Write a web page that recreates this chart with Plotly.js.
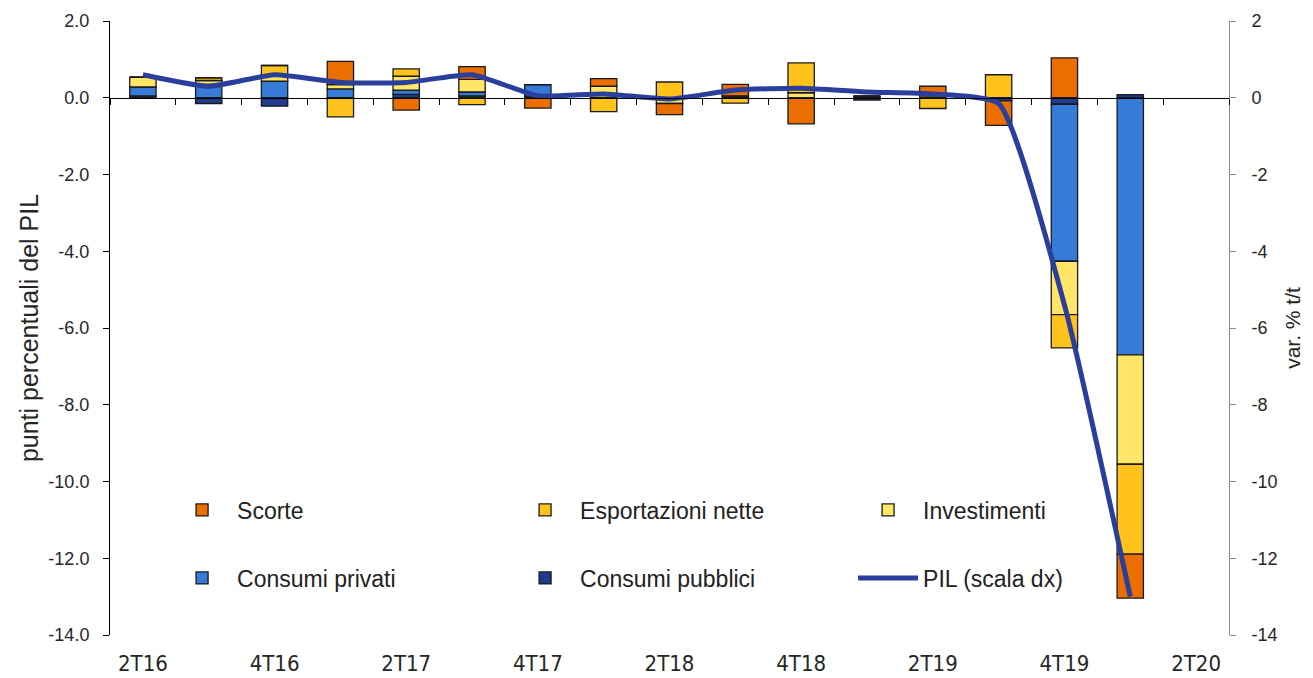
<!DOCTYPE html>
<html>
<head>
<meta charset="utf-8">
<script src="https://cdn.plot.ly/plotly-3.0.1.min.js"></script>
<style>
  html, body { margin: 0; padding: 0; background: #fff; }
  #chart { width: 1313px; height: 678px; }
</style>
</head>
<body>
<div id="chart"></div>
<script>
// Categories (quarters) shown on the axis
var axisQuarters = ['2T16','3T16','4T16','1T17','2T17','3T17','4T17','1T18','2T18','3T18','4T18','1T19','2T19','3T19','4T19','1T20','2T20'];
var tickQuarters = ['2T16','4T16','2T17','4T17','2T18','4T18','2T19','4T19','2T20'];
// Quarters with data
var quarters = ['2T16','3T16','4T16','1T17','2T17','3T17','4T17','1T18','2T18','3T18','4T18','1T19','2T19','3T19','4T19','1T20'];

// Y tick values and labels
var yTickVals = [-14, -12, -10, -8, -6, -4, -2, 0, 2];
var leftTickLabels = ['-14.0', '-12.0', '-10.0', '-8.0', '-6.0', '-4.0', '-2.0', '0.0', '2.0'];
var rightTickLabels = ['-14', '-12', '-10', '-8', '-6', '-4', '-2', '0', '2'];

// Contributions (percentage points of GDP)
var consumiPubblici = [0.05, -0.15, -0.22, 0, 0.09, 0.05, 0.04, 0, 0, 0.05, 0, -0.06, 0, -0.08, -0.17, 0.08];
var consumiPrivati  = [0.23, 0.35, 0.43, 0.23, 0.11, 0.10, 0.30, 0, 0, 0, 0, 0.04, 0, 0, -4.09, -6.70];
var investimenti    = [0.26, 0.10, 0.17, 0.11, 0.36, 0.33, 0, 0.30, -0.15, 0, 0.13, 0, 0.05, 0, -1.39, -2.85];
var esportazioni    = [0, 0.07, 0.24, -0.50, 0.19, -0.18, 0, -0.36, 0.41, -0.14, 0.78, 0, -0.28, 0.60, -0.87, -2.34];
var scorte          = [0, 0, 0, 0.61, -0.32, 0.33, -0.27, 0.20, -0.29, 0.30, -0.68, 0, 0.25, -0.64, 1.04, -1.15];
// GDP q/q % change (right axis)
var pil             = [0.6, 0.3, 0.6, 0.4, 0.4, 0.6, 0.05, 0.1, -0.03, 0.2, 0.25, 0.15, 0.1, -0.15, -5.4, -13.0];

var FONT = '"Liberation Sans", Arial, sans-serif';
var NARROW = '"Liberation Sans Narrow", "DejaVu Sans Condensed", "Roboto Condensed", "Liberation Sans", Arial, sans-serif';
var outline = {color: '#1a1a1a', width: 1.3};

function barTrace(name, vals, color, rank, legendId) {
  return {
    type: 'bar', name: name, x: quarters, y: vals,
    marker: {color: color, line: outline},
    legendrank: rank, legend: legendId,
    xaxis: 'x', yaxis: 'y', hoverinfo: 'name+y'
  };
}

var data = [
  barTrace('Consumi pubblici', consumiPubblici, '#1f3a8f', 5, 'legend2'),
  barTrace('Consumi privati', consumiPrivati, '#377bd9', 4, 'legend2'),
  barTrace('Investimenti', investimenti, '#ffe666', 3, 'legend'),
  barTrace('Esportazioni nette', esportazioni, '#ffc31c', 2, 'legend'),
  barTrace('Scorte', scorte, '#ea6e00', 1, 'legend'),
  {
    type: 'scatter', mode: 'lines', name: 'PIL (scala dx)',
    x: quarters, y: pil, xaxis: 'x2', yaxis: 'y2',
    line: {color: '#2a3f9c', width: 5, shape: 'spline', smoothing: 0.5},
    legendrank: 6, legend: 'legend2'
  }
];

var legendCommon = {
  orientation: 'h', xanchor: 'left', yanchor: 'middle',
  entrywidth: 268, entrywidthmode: 'pixels',
  itemwidth: 60, traceorder: 'normal',
  bgcolor: 'rgba(0,0,0,0)',
  font: {family: FONT, size: 23, color: '#222'}
};

var layout = {
  width: 1313, height: 678,
  margin: {l: 110, r: 84, t: 21, b: 43},
  paper_bgcolor: '#fff', plot_bgcolor: '#fff',
  barmode: 'relative', bargap: 0.6,
  showlegend: true,
  legend: Object.assign({}, legendCommon, {x: 0.051, y: 0.2036}),
  legend2: Object.assign({}, legendCommon, {x: 0.051, y: 0.0928}),
  xaxis: {
    type: 'category', categoryorder: 'array', categoryarray: axisQuarters,
    range: [-0.5, 16.5], autorange: false,
    tickmode: 'array', tickvals: tickQuarters, ticktext: tickQuarters,
    ticks: '', showline: false, showgrid: false, zeroline: false,
    ticklabelstandoff: 13,
    tickfont: {family: NARROW, size: 22, color: '#262626'}
  },
  xaxis2: {
    type: 'category', categoryorder: 'array', categoryarray: axisQuarters,
    range: [-0.5, 16.5], autorange: false,
    overlaying: 'x', anchor: 'free', position: 0.875, side: 'bottom',
    showline: true, linecolor: '#000', linewidth: 1,
    ticks: 'outside', tickson: 'boundaries', ticklen: 6, tickcolor: '#000',
    showticklabels: false, showgrid: false, zeroline: false
  },
  yaxis: {
    range: [-14, 2], autorange: false,
    tickmode: 'array', tickvals: yTickVals, ticktext: leftTickLabels,
    showline: true, linecolor: '#000', linewidth: 1,
    ticks: 'outside', ticklen: 6, tickcolor: '#000',
    showgrid: false, zeroline: false,
    ticklabelstandoff: 10,
    tickfont: {family: FONT, size: 18, color: '#262626'},
    title: {text: 'punti percentuali del PIL', standoff: 2,
            font: {family: FONT, size: 25, color: '#262626'}}
  },
  yaxis2: {
    range: [-14, 2], autorange: false,
    tickmode: 'array', tickvals: yTickVals, ticktext: rightTickLabels,
    overlaying: 'y', side: 'right', anchor: 'x',
    showline: true, linecolor: '#8c8c8c', linewidth: 1,
    ticks: 'outside', ticklen: 6, tickcolor: '#8c8c8c',
    showgrid: false, zeroline: false,
    ticklabelstandoff: 12,
    tickfont: {family: FONT, size: 18, color: '#262626'},
    title: {text: 'var. % t/t', standoff: 8,
            font: {family: FONT, size: 21, color: '#262626'}}
  }
};

Plotly.newPlot('chart', data, layout, {displayModeBar: false, staticPlot: true});
</script>
</body>
</html>
